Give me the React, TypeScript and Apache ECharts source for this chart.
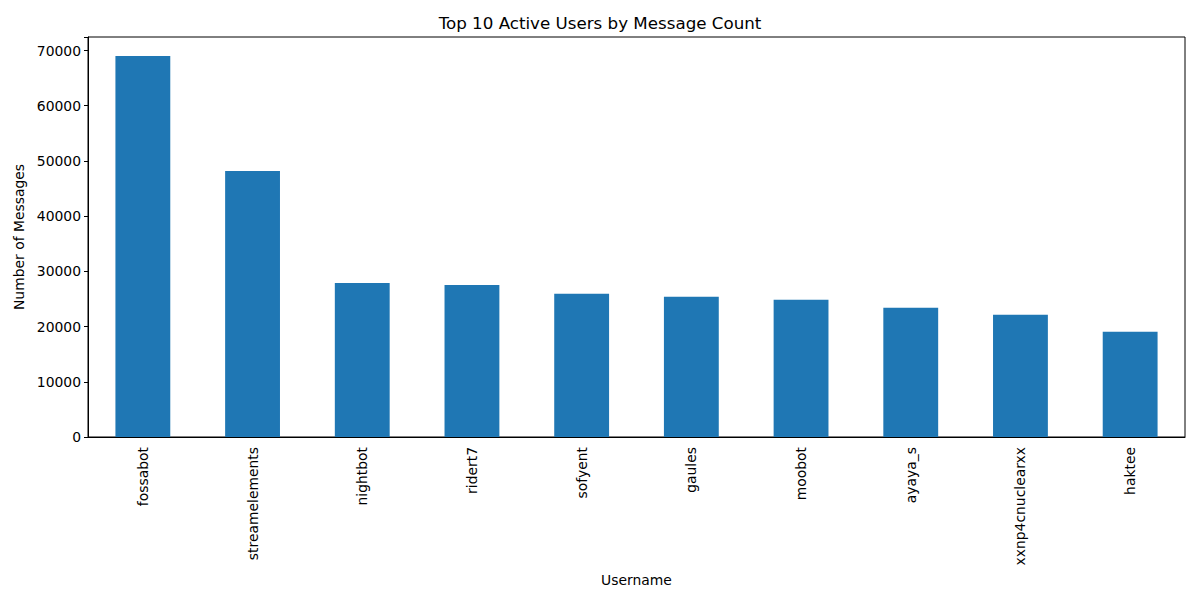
import React, { useEffect, useRef } from "react";
import * as echarts from "echarts";

const usernames = [
  "fossabot",
  "streamelements",
  "nightbot",
  "ridert7",
  "sofyent",
  "gaules",
  "moobot",
  "ayaya_s",
  "xxnp4cnuclearxx",
  "haktee",
];
const messageCounts = [69000, 48200, 27900, 27550, 25950, 25400, 24850, 23400, 22150, 19050];
const yTicks = [0, 10000, 20000, 30000, 40000, 50000, 60000, 70000];

const FONT = "DejaVu Sans";

export default function App() {
  const ref = useRef<HTMLDivElement>(null);
  useEffect(() => {
    if (!ref.current) return;
    const chart = echarts.init(ref.current, undefined, { renderer: "svg" });
    chart.setOption({
      animation: false,
      backgroundColor: "#ffffff",
      title: {
        text: "Top 10 Active Users by Message Count",
        left: "center",
        top: 9,
        textStyle: { fontFamily: FONT, fontSize: 16.7, fontWeight: "normal", color: "#000" },
      },
      grid: {
        left: 88,
        right: 15,
        top: 37,
        bottom: 163,
        show: true,
        borderColor: "#000",
        borderWidth: 1,
        backgroundColor: "transparent",
      },
      xAxis: {
        type: "category",
        data: usernames,
        name: "Username",
        nameLocation: "middle",
        nameGap: 131,
        nameTextStyle: { fontFamily: FONT, fontSize: 13.9, color: "#000" },
        axisLine: { lineStyle: { color: "#000" } },
        axisTick: { alignWithLabel: true, length: 4, lineStyle: { color: "#000" } },
        axisLabel: { rotate: 90, fontFamily: FONT, fontSize: 13.9, color: "#000", margin: 10, interval: 0 },
      },
      yAxis: {
        type: "value",
        min: 0,
        max: 72450,
        interval: 10000,
        name: "Number of Messages",
        nameLocation: "middle",
        nameGap: 60,
        nameTextStyle: { fontFamily: FONT, fontSize: 13.9, color: "#000" },
        axisLine: { show: true, lineStyle: { color: "#000" } },
        axisTick: { show: true, length: 4, lineStyle: { color: "#000" } },
        axisLabel: {
          fontFamily: FONT,
          fontSize: 13.9,
          color: "#000",
          margin: 7,
          formatter: (v: number) => (yTicks.includes(v) ? String(v) : ""),
        },
        splitLine: { show: false },
      },
      series: [
        {
          type: "bar",
          data: messageCounts,
          barCategoryGap: "50%",
          itemStyle: { color: "#1f77b4" },
        },
      ],
    });
    return () => chart.dispose();
  }, []);
  return <div ref={ref} style={{ width: 1200, height: 600, position: "absolute", left: 0, top: 0 }} />;
}
